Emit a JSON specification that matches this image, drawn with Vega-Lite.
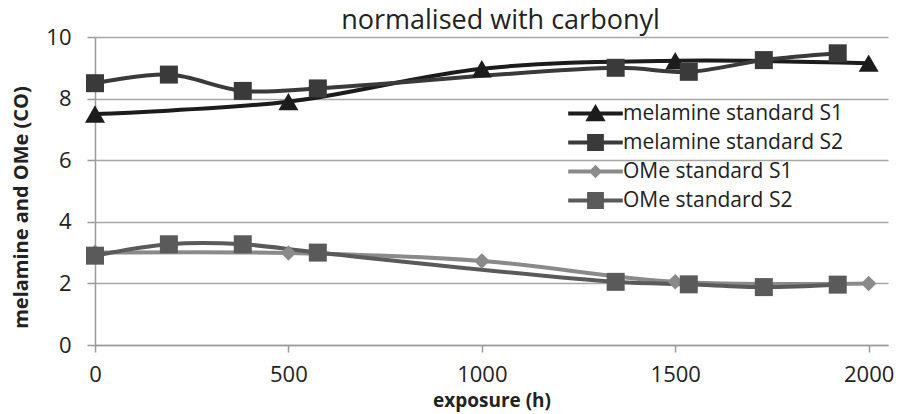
{
  "$schema": "https://vega.github.io/schema/vega-lite/v6.json",
  "width": 793,
  "height": 308,
  "autosize": {"type": "none"},
  "padding": {"left": 95, "top": 37, "right": 11, "bottom": 69},
  "background": "white",
  "config": {"view": {"stroke": null}, "font": "Open Sans"},
  "title": {"text": "normalised with carbonyl", "fontSize": 27, "fontWeight": "normal", "font": "Open Sans", "color": "#222222", "anchor": "middle", "offset": 5, "dx": 9, "dy": 14},
  "data": {"values": [
    {"series": "melamine standard S1", "exposure": 0, "value": 7.5},
    {"series": "melamine standard S1", "exposure": 500, "value": 7.9},
    {"series": "melamine standard S1", "exposure": 1000, "value": 8.97},
    {"series": "melamine standard S1", "exposure": 1500, "value": 9.23},
    {"series": "melamine standard S1", "exposure": 2000, "value": 9.15},
    {"series": "melamine standard S2", "exposure": 0, "value": 8.5},
    {"series": "melamine standard S2", "exposure": 191, "value": 8.78},
    {"series": "melamine standard S2", "exposure": 382, "value": 8.25},
    {"series": "melamine standard S2", "exposure": 576, "value": 8.33},
    {"series": "melamine standard S2", "exposure": 1346, "value": 9.0},
    {"series": "melamine standard S2", "exposure": 1535, "value": 8.87},
    {"series": "melamine standard S2", "exposure": 1729, "value": 9.25},
    {"series": "melamine standard S2", "exposure": 1920, "value": 9.47},
    {"series": "OMe standard S1", "exposure": 0, "value": 3.0},
    {"series": "OMe standard S1", "exposure": 500, "value": 2.99},
    {"series": "OMe standard S1", "exposure": 1000, "value": 2.73},
    {"series": "OMe standard S1", "exposure": 1500, "value": 2.05},
    {"series": "OMe standard S1", "exposure": 2000, "value": 2.0},
    {"series": "OMe standard S2", "exposure": 0, "value": 2.9},
    {"series": "OMe standard S2", "exposure": 191, "value": 3.27},
    {"series": "OMe standard S2", "exposure": 382, "value": 3.27},
    {"series": "OMe standard S2", "exposure": 576, "value": 3.0},
    {"series": "OMe standard S2", "exposure": 1346, "value": 2.05},
    {"series": "OMe standard S2", "exposure": 1535, "value": 1.97},
    {"series": "OMe standard S2", "exposure": 1729, "value": 1.88},
    {"series": "OMe standard S2", "exposure": 1920, "value": 1.96}
  ]},
  "encoding": {
    "x": {
      "field": "exposure", "type": "quantitative",
      "scale": {"domain": [0, 2050], "nice": false, "zero": false},
      "axis": {
        "values": [0, 500, 1000, 1500, 2000], "format": "d", "grid": false, "labelFlush": false,
        "domainColor": "#9a9a9a", "domainWidth": 1.5, "tickColor": "#9a9a9a", "tickWidth": 1.5, "tickSize": 7,
        "labelFontSize": 22, "labelColor": "#222222", "labelPadding": 12, "labelFont": "Open Sans",
        "title": "exposure (h)", "titleFontSize": 19, "titleFontWeight": "bold", "titleColor": "#222222", "titleFont": "Open Sans", "titlePadding": 6
      }
    },
    "y": {
      "field": "value", "type": "quantitative",
      "scale": {"domain": [0, 10], "nice": false},
      "axis": {
        "values": [0, 2, 4, 6, 8, 10], "grid": true, "gridColor": "#a6a6a6", "gridWidth": 1.5,
        "domainColor": "#9a9a9a", "domainWidth": 1.5, "tickColor": "#9a9a9a", "tickWidth": 1.5, "tickSize": 8,
        "labelFontSize": 22, "labelColor": "#222222", "labelPadding": 16, "labelFont": "Open Sans",
        "title": "melamine and OMe (CO)", "titleFontSize": 20, "titleFontWeight": "bold", "titleColor": "#222222", "titleFont": "Open Sans", "titlePadding": 14, "titleY": 170
      }
    },
    "color": {
      "field": "series", "type": "nominal",
      "scale": {"domain": ["melamine standard S1", "melamine standard S2", "OMe standard S1", "OMe standard S2"], "range": ["#1c1c1c", "#3a3a3a", "#8a8a8a", "#5a5a5a"]},
      "legend": {
        "orient": "none", "legendX": 490, "legendY": 66, "title": null, "padding": 0,
        "labelFontSize": 21, "labelFont": "Open Sans", "labelColor": "#222222", "labelOffset": 17, "labelLimit": 500,
        "symbolSize": 196, "symbolStrokeWidth": 0, "symbolOpacity": 1, "rowPadding": 7
      }
    }
  },
  "layer": [
    {"mark": {"type": "line", "interpolate": "catmull-rom", "strokeWidth": 4}},
    {
      "transform": [{"filter": "datum.series === 'melamine standard S1'"}],
      "mark": {"type": "point", "filled": true, "opacity": 1, "strokeWidth": 0, "shape": "triangle-up", "size": 400}
    },
    {
      "transform": [{"filter": "datum.series === 'OMe standard S1'"}],
      "mark": {"type": "point", "filled": true, "opacity": 1, "strokeWidth": 0, "shape": "diamond", "size": 240}
    },
    {
      "transform": [{"filter": "datum.series === 'melamine standard S2' || datum.series === 'OMe standard S2'"}],
      "mark": {"type": "point", "filled": true, "opacity": 1, "strokeWidth": 0, "shape": "square", "size": 324}
    },
    {
      "mark": {"type": "point", "filled": true, "opacity": 0, "strokeWidth": 0},
      "encoding": {
        "shape": {
          "field": "series", "type": "nominal",
          "scale": {"domain": ["melamine standard S1", "melamine standard S2", "OMe standard S1", "OMe standard S2"],
                    "range": ["M-3.9,-0.29H3.9V0.29H-3.9Z M0,-1.35L1.45,1.1H-1.45Z", "M-3.9,-0.29H3.9V0.29H-3.9Z M-1.2,-1.2H1.2V1.2H-1.2Z", "M-3.9,-0.29H3.9V0.29H-3.9Z M0,-0.95L0.95,0L0,0.95L-0.95,0Z", "M-3.9,-0.29H3.9V0.29H-3.9Z M-1.2,-1.2H1.2V1.2H-1.2Z"]},
          "legend": {
            "orient": "none", "legendX": 490, "legendY": 66, "title": null, "padding": 0,
            "labelFontSize": 21, "labelFont": "Open Sans", "labelColor": "#222222", "labelOffset": 17, "labelLimit": 500,
            "symbolSize": 196, "symbolStrokeWidth": 0, "symbolOpacity": 1, "rowPadding": 7
          }
        }
      }
    }
  ]
}
